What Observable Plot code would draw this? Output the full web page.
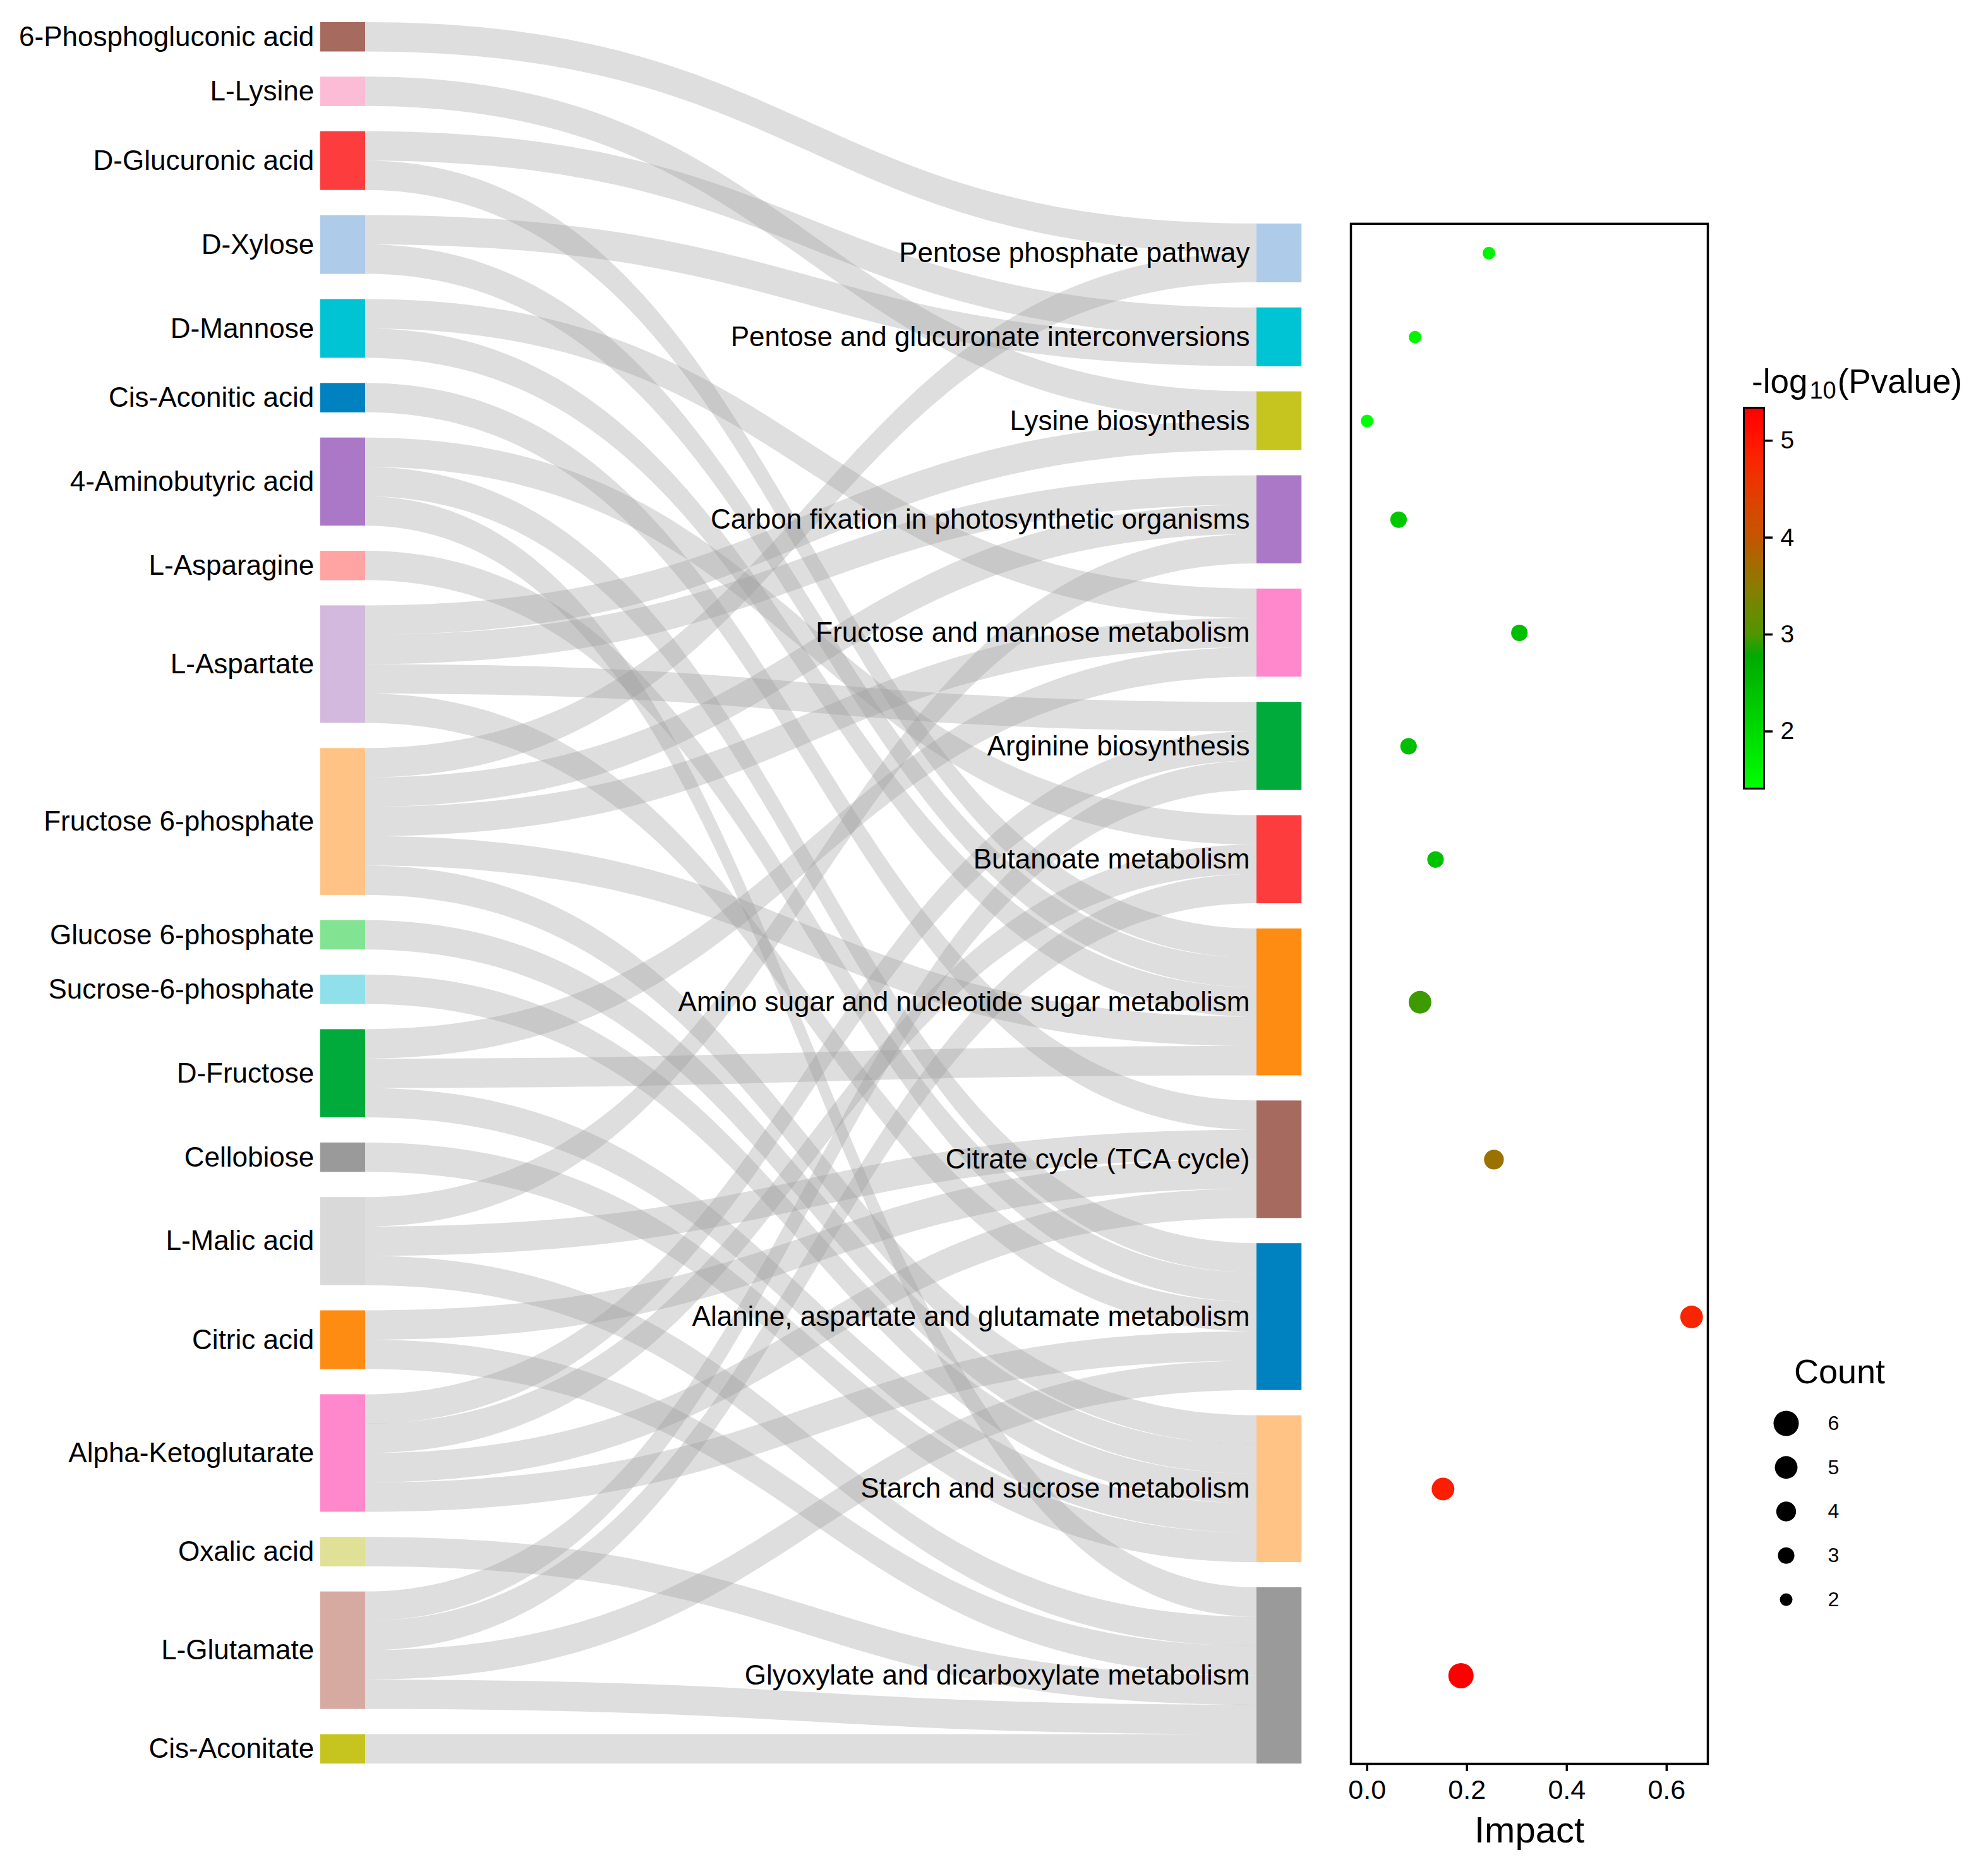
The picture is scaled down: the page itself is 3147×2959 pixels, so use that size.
<!DOCTYPE html>
<html>
<head>
<meta charset="utf-8">
<script src="https://cdn.jsdelivr.net/npm/d3@7"></script>
<script src="https://cdn.jsdelivr.net/npm/@observablehq/plot@0.6"></script>
<style>
  html, body { margin: 0; padding: 0; background: #ffffff; }
  #wrap { position: relative; width: 3147px; height: 2959px; overflow: hidden; background: #ffffff;
          font-family: "Liberation Sans", Arial, Helvetica, sans-serif; color: #000; }
  #wrap svg { position: absolute; left: 0; top: 0; }
  .title { position: absolute; white-space: nowrap; line-height: 1; color: #000; }
  .ticksfix g[aria-label*="axis"] line, .ticksfix g[aria-label*="axis"] path { stroke-width: 3.5px; }
</style>
</head>
<body>
<div id="wrap">
  <div class="title" id="pTitle" style="left:2773px; top:577px; font-size:53px;">-log<span style="font-size:38px; position:relative; top:9px; line-height:0; margin-left:3px; margin-right:2px;">10</span>(Pvalue)</div>
  <div class="title" id="cTitle" style="left:2840px; top:2144px; font-size:54px;">Count</div>
</div>
<script>
// ---------------- data ----------------
const metabolites = [
  "6-Phosphogluconic acid", "L-Lysine", "D-Glucuronic acid", "D-Xylose", "D-Mannose",
  "Cis-Aconitic acid", "4-Aminobutyric acid", "L-Asparagine", "L-Aspartate",
  "Fructose 6-phosphate", "Glucose 6-phosphate", "Sucrose-6-phosphate", "D-Fructose",
  "Cellobiose", "L-Malic acid", "Citric acid", "Alpha-Ketoglutarate", "Oxalic acid",
  "L-Glutamate", "Cis-Aconitate"
];
const metaboliteColors = [
  "#a66a5e", "#fcbcd6", "#fd3c3d", "#aecbe9", "#00c4d4",
  "#0082c0", "#aa78c7", "#ffa3a3", "#d3b9dd",
  "#ffc485", "#82e392", "#8fe0ea", "#00aa3b",
  "#9a9a9a", "#d9d9d9", "#ff8c12", "#ff88cc", "#e0e096",
  "#d6aaa1", "#c6c41f"
];
const pathways = [
  "Pentose phosphate pathway", "Pentose and glucuronate interconversions", "Lysine biosynthesis",
  "Carbon fixation in photosynthetic organisms", "Fructose and mannose metabolism",
  "Arginine biosynthesis", "Butanoate metabolism", "Amino sugar and nucleotide sugar metabolism",
  "Citrate cycle (TCA cycle)", "Alanine, aspartate and glutamate metabolism",
  "Starch and sucrose metabolism", "Glyoxylate and dicarboxylate metabolism"
];
const pathwayColors = [
  "#aecbe9", "#00c4d4", "#c6c41f", "#aa78c7", "#ff88cc", "#00aa3b",
  "#fd3c3d", "#ff8c12", "#a66a5e", "#0082c0", "#ffc485", "#9a9a9a"
];
const impact    = [0.244, 0.096, 0.000, 0.063, 0.305, 0.083, 0.137, 0.106, 0.254, 0.650, 0.152, 0.188];
const negLog10P = [1.60, 1.55, 1.41, 2.30, 2.45, 2.45, 2.40, 2.95, 3.65, 4.80, 4.90, 5.34];
const hitCount  = [2, 2, 2, 3, 3, 3, 3, 5, 4, 5, 5, 6];

// metabolite -> pathway links
const links = [
  ["6-Phosphogluconic acid", "Pentose phosphate pathway"],
  ["L-Lysine", "Lysine biosynthesis"],
  ["D-Glucuronic acid", "Pentose and glucuronate interconversions"],
  ["D-Glucuronic acid", "Amino sugar and nucleotide sugar metabolism"],
  ["D-Xylose", "Pentose and glucuronate interconversions"],
  ["D-Xylose", "Amino sugar and nucleotide sugar metabolism"],
  ["D-Mannose", "Fructose and mannose metabolism"],
  ["D-Mannose", "Amino sugar and nucleotide sugar metabolism"],
  ["Cis-Aconitic acid", "Citrate cycle (TCA cycle)"],
  ["4-Aminobutyric acid", "Butanoate metabolism"],
  ["4-Aminobutyric acid", "Alanine, aspartate and glutamate metabolism"],
  ["4-Aminobutyric acid", "Glyoxylate and dicarboxylate metabolism"],
  ["L-Asparagine", "Alanine, aspartate and glutamate metabolism"],
  ["L-Aspartate", "Lysine biosynthesis"],
  ["L-Aspartate", "Carbon fixation in photosynthetic organisms"],
  ["L-Aspartate", "Arginine biosynthesis"],
  ["L-Aspartate", "Alanine, aspartate and glutamate metabolism"],
  ["Fructose 6-phosphate", "Pentose phosphate pathway"],
  ["Fructose 6-phosphate", "Carbon fixation in photosynthetic organisms"],
  ["Fructose 6-phosphate", "Fructose and mannose metabolism"],
  ["Fructose 6-phosphate", "Amino sugar and nucleotide sugar metabolism"],
  ["Fructose 6-phosphate", "Starch and sucrose metabolism"],
  ["Glucose 6-phosphate", "Starch and sucrose metabolism"],
  ["Sucrose-6-phosphate", "Starch and sucrose metabolism"],
  ["D-Fructose", "Fructose and mannose metabolism"],
  ["D-Fructose", "Amino sugar and nucleotide sugar metabolism"],
  ["D-Fructose", "Starch and sucrose metabolism"],
  ["Cellobiose", "Starch and sucrose metabolism"],
  ["L-Malic acid", "Carbon fixation in photosynthetic organisms"],
  ["L-Malic acid", "Citrate cycle (TCA cycle)"],
  ["L-Malic acid", "Glyoxylate and dicarboxylate metabolism"],
  ["Citric acid", "Citrate cycle (TCA cycle)"],
  ["Citric acid", "Glyoxylate and dicarboxylate metabolism"],
  ["Alpha-Ketoglutarate", "Arginine biosynthesis"],
  ["Alpha-Ketoglutarate", "Butanoate metabolism"],
  ["Alpha-Ketoglutarate", "Citrate cycle (TCA cycle)"],
  ["Alpha-Ketoglutarate", "Alanine, aspartate and glutamate metabolism"],
  ["Oxalic acid", "Glyoxylate and dicarboxylate metabolism"],
  ["L-Glutamate", "Arginine biosynthesis"],
  ["L-Glutamate", "Butanoate metabolism"],
  ["L-Glutamate", "Alanine, aspartate and glutamate metabolism"],
  ["L-Glutamate", "Glyoxylate and dicarboxylate metabolism"],
  ["Cis-Aconitate", "Glyoxylate and dicarboxylate metabolism"]
];
const countLevels = [6, 5, 4, 3, 2];
const colorBarTicks = [2, 3, 4, 5];
const impactTicks = [0, 0.2, 0.4, 0.6];
// colour-bar stops (-log10 P value -> colour)
const colorStops = [1.41, 2.78, 3.0, 3.25, 3.5, 3.75, 4.0, 4.25, 4.5, 4.75, 5.0, 5.34];
const colorStopColors = ["#00ff00", "#00aa00", "#4f9600", "#6c8a00", "#8a7c00", "#a66a00",
                         "#c25600", "#d44a00", "#e63a00", "#f62a00", "#ff1600", "#ff0000"];

// ---------------- layout (sankey stacking) ----------------
const W = 3147, H = 2959;
const FONT = '"Liberation Sans", Arial, Helvetica, sans-serif';
const plotTop = 35, plotBottom = 2792;
const gap = 0.857;            // gap between nodes, in link units
const nodeW = 0.0505;         // node width, as fraction of the link span

const srcIdx = new Map(metabolites.map((d, i) => [d, i]));
const tgtIdx = new Map(pathways.map((d, i) => [d, i]));
const srcSize = metabolites.map(m => links.filter(l => l[0] === m).length);
const tgtSize = pathways.map(p => links.filter(l => l[1] === p).length);
const leftTotal = d3.sum(srcSize) + gap * (metabolites.length - 1);
const rightTotal = d3.sum(tgtSize) + gap * (pathways.length - 1);

let acc = 0;
const srcY = srcSize.map(s => { const v = acc; acc += s + gap; return v; });
acc = leftTotal - rightTotal; // right column is bottom-aligned
const tgtY = tgtSize.map(s => { const v = acc; acc += s + gap; return v; });

const L = links.map(([s, t], k) => ({ s: srcIdx.get(s), t: tgtIdx.get(t), k }));
d3.groups(L, d => d.s).forEach(([s, arr]) => arr.slice().sort((a, b) => a.t - b.t).forEach((d, i) => d.y0 = srcY[s] + i));
d3.groups(L, d => d.t).forEach(([t, arr]) => arr.slice().sort((a, b) => a.s - b.s).forEach((d, i) => d.y1 = tgtY[t] + i));
const ribbon = L.flatMap(d => [
  { id: d.k, x: 0, top: d.y0, bot: d.y0 + 1 },
  { id: d.k, x: 1, top: d.y1, bot: d.y1 + 1 }
]);

const leftNodes = metabolites.map((name, i) => ({ name, color: metaboliteColors[i], x1: -nodeW, x2: 0, y1: srcY[i], y2: srcY[i] + srcSize[i] }));
const rightNodes = pathways.map((name, i) => ({ name, color: pathwayColors[i], x1: 1, x2: 1 + nodeW, y1: tgtY[i], y2: tgtY[i] + tgtSize[i] }));

const pxPerUnit = (plotBottom - plotTop) / leftTotal;
const rightTopPx = plotTop + (leftTotal - rightTotal) * pxPerUnit;

const wrap = document.getElementById("wrap");

// ---------------- sankey ----------------
const sankey = Plot.plot({
  width: W, height: H, margin: 0,
  x: { domain: [0, 1], range: [578, 1989], axis: null },
  y: { domain: [0, leftTotal], range: [plotTop, plotBottom], axis: null },
  color: { type: "identity" },
  style: { fontFamily: FONT, background: "none", color: "black" },
  marks: [
    Plot.area(ribbon, { x1: "x", y1: "top", y2: "bot", z: "id", curve: "bump-x", fill: "#9c9c9c", fillOpacity: 0.33 }),
    Plot.rect(leftNodes, { x1: "x1", x2: "x2", y1: "y1", y2: "y2", fill: "color" }),
    Plot.rect(rightNodes, { x1: "x1", x2: "x2", y1: "y1", y2: "y2", fill: "color" }),
    Plot.text(leftNodes, { x: "x1", y: d => (d.y1 + d.y2) / 2, text: "name", textAnchor: "end", dx: -10, fontSize: 44, fill: "black" }),
    Plot.text(rightNodes, { x: "x1", y: d => (d.y1 + d.y2) / 2, text: "name", textAnchor: "end", dx: -11, fontSize: 44, fill: "black" })
  ]
});
wrap.appendChild(sankey);

// ---------------- dot plot ----------------
const colorSpec = { type: "linear", domain: colorStops, range: colorStopColors, interpolate: "rgb" };
const rSpec = { type: "sqrt", domain: [2, 6], range: [10, 20] };
const pathData = pathways.map((name, i) => ({ name, impact: impact[i], nlp: negLog10P[i], count: hitCount[i], ymid: tgtY[i] + tgtSize[i] / 2 }));

const dotPlot = Plot.plot({
  width: W, height: H,
  marginLeft: 2138, marginRight: W - 2703, marginTop: rightTopPx, marginBottom: H - plotBottom,
  x: { domain: [-0.0325, 0.6825], ticks: impactTicks, tickFormat: ".1f", tickSize: 12, tickPadding: 13, label: null },
  y: { domain: [leftTotal - rightTotal, leftTotal], range: [rightTopPx, plotBottom], axis: null },
  color: colorSpec,
  r: rSpec,
  style: { fontFamily: FONT, fontSize: "43px", background: "none", color: "black" },
  marks: [
    Plot.dot(pathData, { x: "impact", y: "ymid", r: "count", fill: "nlp" }),
    Plot.frame({ stroke: "black", strokeWidth: 3.5 }),
    Plot.text(["Impact"], { frameAnchor: "bottom", lineAnchor: "middle", dy: 106, fontSize: 58, fill: "black" })
  ]
});
dotPlot.classList.add("ticksfix");
wrap.appendChild(dotPlot);

// ---------------- colour bar legend ----------------
const lo = d3.min(negLog10P), hi = d3.max(negLog10P);
const nSteps = 240;
const ramp = d3.range(nSteps).map(i => ({ v0: lo + (hi - lo) * i / nSteps, v1: lo + (hi - lo) * (i + 1) / nSteps }));
const colorBar = Plot.plot({
  width: W, height: H,
  marginLeft: 2760, marginRight: W - 2792, marginTop: 645, marginBottom: H - 1248,
  x: { domain: [0, 1], axis: null },
  y: { domain: [lo, hi], ticks: colorBarTicks, tickFormat: "d", axis: "right", tickSize: 13, tickPadding: 13, label: null },
  color: colorSpec,
  style: { fontFamily: FONT, fontSize: "39px", background: "none", color: "black" },
  marks: [
    Plot.rect(ramp, { y1: "v0", y2: "v1", fill: d => (d.v0 + d.v1) / 2, insetTop: -0.6, insetBottom: -0.6 }),
    Plot.frame({ stroke: "black", strokeWidth: 3 })
  ]
});
colorBar.classList.add("ticksfix");
wrap.appendChild(colorBar);

// ---------------- size legend ----------------
const sizeLegend = Plot.plot({
  width: W, height: H, margin: 0,
  x: { type: "point", domain: ["dot", "label"], range: [2827, 2902], padding: 0, axis: null },
  y: { domain: [6, 2], range: [2253, 2532], axis: null },
  r: rSpec,
  style: { fontFamily: FONT, background: "none", color: "black" },
  marks: [
    Plot.dot(countLevels, { x: () => "dot", y: d => d, r: d => d, fill: "black" }),
    Plot.text(countLevels, { x: () => "label", y: d => d, text: d => String(d), fontSize: 32, fill: "black" })
  ]
});
wrap.appendChild(sizeLegend);
</script>
</body>
</html>
